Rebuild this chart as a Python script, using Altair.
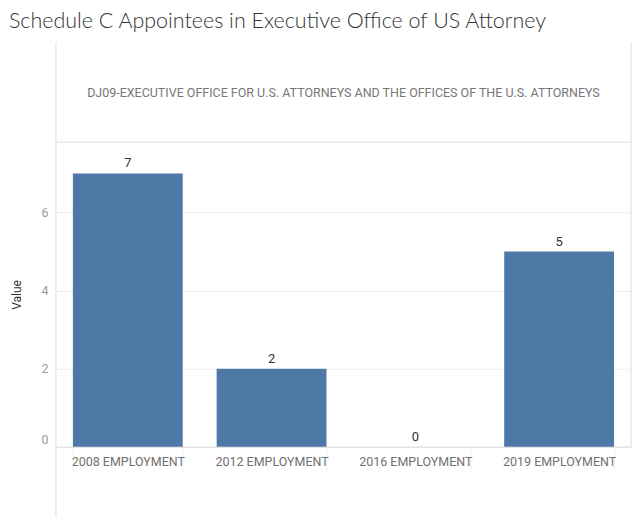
import altair as alt
import pandas as pd

chart_title = "Schedule C Appointees in Executive Office of US Attorney"
agency = "DJ09-EXECUTIVE OFFICE FOR U.S. ATTORNEYS AND THE OFFICES OF THE U.S. ATTORNEYS"
categories = ["2008 EMPLOYMENT", "2012 EMPLOYMENT", "2016 EMPLOYMENT", "2019 EMPLOYMENT"]
values = [7, 2, 0, 5]
y_ticks = [0, 2, 4, 6]

W = 576
HH = 100
PH = 305
BORDER = "#dcdcdc"
FONT = "Roboto, sans-serif"

df = pd.DataFrame({"category": categories, "value": values})
hdf = pd.DataFrame({"agency": [agency]})

header_text = alt.Chart(hdf).mark_text(
    font=FONT, fontSize=12.5, color="#777777", align="center", baseline="middle"
).encode(text="agency:N", x=alt.value(W / 2), y=alt.value(51))
h_left = alt.Chart(hdf).mark_rule(color=BORDER).encode(x=alt.value(0), y=alt.value(0), y2=alt.value(HH))
h_right = alt.Chart(hdf).mark_rule(color=BORDER).encode(x=alt.value(W), y=alt.value(0), y2=alt.value(HH))
h_bottom = alt.Chart(hdf).mark_rule(color=BORDER).encode(x=alt.value(0), x2=alt.value(W), y=alt.value(HH))
header = alt.layer(header_text, h_left, h_right, h_bottom).properties(width=W, height=HH)

x_enc = alt.X(
    "category:N", sort=categories,
    scale=alt.Scale(paddingInner=0.236, paddingOuter=0.118),
    axis=alt.Axis(title=None, labelAngle=0, labelColor="#707070", labelFontSize=12.5,
                  labelFont=FONT, labelPadding=-19, domainColor=BORDER,
                  ticks=True, tickBand="extent", tickColor="#f2f2f2", tickSize=28),
)
y_enc = alt.Y(
    "value:Q", scale=alt.Scale(domain=[0, 7.8], nice=False),
    axis=alt.Axis(title="Value", values=y_ticks, grid=True, gridColor="#f0f0f0",
                  domain=False, ticks=False, labelColor="#999999", labelFontSize=12.5,
                  labelFont=FONT, labelPadding=8, labelFlush=True,
                  titleColor="#333333", titleFontSize=12, titleFontWeight="normal",
                  titleFont=FONT, titlePadding=17),
)
bars = alt.Chart(df).mark_bar(color="#4e79a7").encode(x=x_enc, y=y_enc)
labels = alt.Chart(df).mark_text(dy=-10, fontSize=13, color="#333333", font=FONT).encode(
    x=alt.X("category:N", sort=categories), y="value:Q", text="value:Q")
p_left = alt.Chart(hdf).mark_rule(color=BORDER).encode(x=alt.value(0), y=alt.value(0), y2=alt.value(PH + 70))
p_right = alt.Chart(hdf).mark_rule(color=BORDER).encode(x=alt.value(W), y=alt.value(0), y2=alt.value(PH))
plot = alt.layer(bars, labels, p_left, p_right).properties(width=W, height=PH)

chart = alt.vconcat(header, plot, spacing=0, bounds="flush").properties(
    title=alt.TitleParams(chart_title, anchor="start", fontSize=21.5, font="Lato",
                          fontWeight=300, color="#333333", offset=9, dx=-2),
    padding={"left": 0, "top": 3, "right": 0, "bottom": 0},
).configure_view(stroke=None)

chart.save("out.html", embed_options={"renderer": "svg", "actions": False})
